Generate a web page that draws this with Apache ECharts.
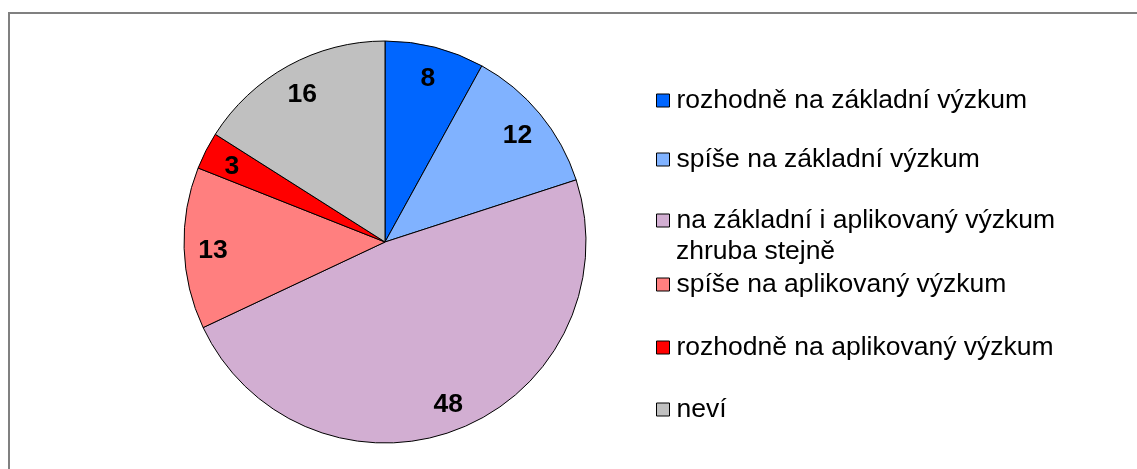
<!DOCTYPE html>
<html>
<head>
<meta charset="utf-8">
<style>
  html, body { margin: 0; padding: 0; background: #fff; }
  #chart { width: 1137px; height: 469px; }
</style>
<script src="https://cdn.jsdelivr.net/npm/echarts@6/dist/echarts.min.js"></script>
</head>
<body>
<div id="chart"></div>
<script>
// data
const categories = [
  'rozhodně na základní výzkum',
  'spíše na základní výzkum',
  'na základní i aplikovaný výzkum\nzhruba stejně',
  'spíše na aplikovaný výzkum',
  'rozhodně na aplikovaný výzkum',
  'neví'
]
const values = [8, 12, 48, 13, 3, 16]
const colors = ['#0066ff', '#80b2ff', '#d2aed2', '#ff7f7f', '#ff0000', '#c0c0c0']

const font = "'Liberation Sans', Arial, sans-serif"
const center = [385, 242]
const radius = 201
// legend rows (vertical centre of the icon)
const legendRows = [99, 158, 219, 283, 346, 408]
const wrapGap = 33

const chart = echarts.init(document.getElementById('chart'), null, { renderer: 'canvas' })

const pieData = categories.map((name, i) => ({ name, value: values[i] }))

// one legend per row so rows can sit where Excel put them;
// wrapped names show their first line in the legend, the rest as text below
const legends = categories.map((name, i) => ({
  data: [name],
  orient: 'vertical',
  left: 656,
  top: legendRows[i] - 12,
  padding: 0,
  icon: 'rect',
  itemWidth: 13,
  itemHeight: 13,
  selectedMode: false,
  formatter: n => n.split('\n')[0],
  itemStyle: { borderColor: '#000', borderWidth: 1 },
  textStyle: { color: '#000', fontFamily: font, fontSize: 26.5, padding: [0, 0, 0, 2] }
}))

const extraLines = []
categories.forEach((name, i) => {
  name.split('\n').slice(1).forEach((line, k) => {
    extraLines.push({
      type: 'text',
      silent: true,
      x: 676,
      y: legendRows[i] + wrapGap * (k + 1),
      style: { text: line, fill: '#000', font: '26.5px ' + font, verticalAlign: 'middle' }
    })
  })
})

chart.setOption({
  animation: false,
  color: colors,
  legend: legends,
  graphic: [{
    type: 'rect',
    silent: true,
    shape: { x: 9, y: 13, width: 1200, height: 600 },
    style: { fill: 'none', stroke: '#808080', lineWidth: 2 }
  }].concat(extraLines),
  series: [
    {
      name: 'main',
      type: 'pie',
      center: center,
      radius: [0, radius],
      startAngle: 90,
      clockwise: true,
      silent: true,
      itemStyle: { borderColor: '#000', borderWidth: 1 },
      label: { show: false },
      labelLine: { show: false },
      emphasis: { disabled: true },
      data: pieData
    },
    {
      // transparent ring only used to place the value labels at ~0.85 radius
      name: 'labels',
      type: 'pie',
      center: center,
      radius: [radius - 64, radius],
      startAngle: 90,
      clockwise: true,
      silent: true,
      z: 3,
      itemStyle: { color: 'transparent', borderWidth: 0 },
      label: {
        show: true,
        position: 'inside',
        formatter: '{c}',
        color: '#000',
        fontFamily: font,
        fontWeight: 'bold',
        fontSize: 26.5,
        offset: [0, 3]
      },
      labelLine: { show: false },
      emphasis: { disabled: true },
      data: pieData
    }
  ]
})
</script>
</body>
</html>
